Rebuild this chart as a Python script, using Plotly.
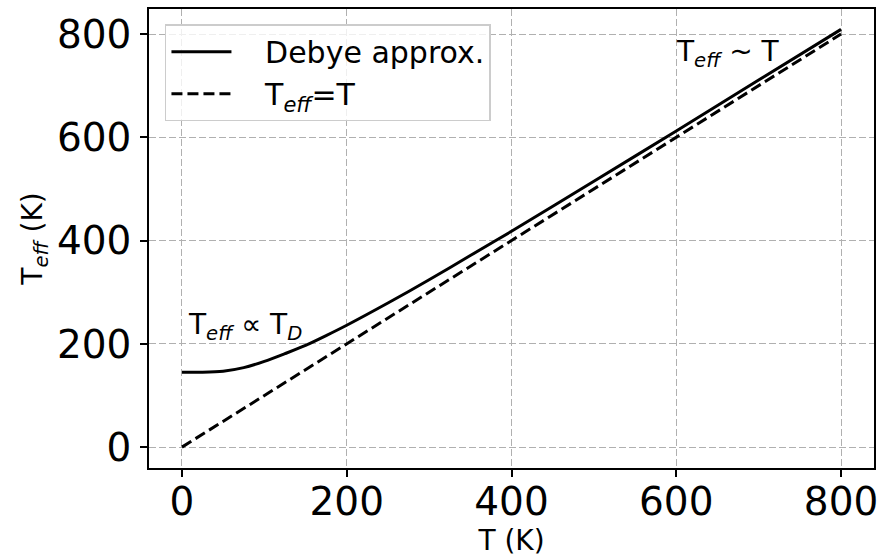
import plotly.graph_objects as go

# Data
T_debye = [0, 25, 50, 75, 100, 125, 150, 175, 200, 250, 300, 350, 400, 500, 600, 700, 800]
Teff_debye = [145, 145, 147, 154, 166, 181, 197, 216, 236, 279, 324, 371, 418, 515, 612, 711, 809]
T_line = [0, 800]
Teff_line = [0, 800]
tick_vals = [0, 200, 400, 600, 800]

FONT = "DejaVu Sans"
NB = "\u00a0"

fig = go.Figure()
fig.add_trace(go.Scatter(
    x=T_debye, y=Teff_debye, mode="lines", name=NB * 3 + "Debye approx.",
    line=dict(color="black", width=3, shape="spline", smoothing=0.8),
))
fig.add_trace(go.Scatter(
    x=T_line, y=Teff_line, mode="lines", name=NB * 3 + "T<sub><i>eff</i></sub>=T",
    line=dict(color="black", width=3, dash="11px,5px"),
))

axis_common = dict(
    showline=True, linecolor="black", linewidth=1.6, mirror=True,
    ticks="outside", ticklen=7, tickwidth=1.5, tickcolor="black",
    showgrid=True, gridcolor="#b0b0b0", gridwidth=1.3, griddash="7px,3px",
    zeroline=False, tickvals=tick_vals, automargin=False,
    tickfont=dict(family=FONT, size=39, color="black"),
)

fig.update_xaxes(range=[-40, 840], title=dict(text="T (K)", font=dict(family=FONT, size=28, color="black"), standoff=4),
                 ticklabelstandoff=-9, **axis_common)
fig.update_yaxes(range=[-40.4, 848.4], title=dict(text="T<sub><i>eff</i></sub> (K)", font=dict(family=FONT, size=28, color="black"), standoff=6),
                 ticklabelstandoff=1, **axis_common)

fig.add_annotation(x=5, y=193, text="T<sub><i>eff</i></sub> ∝ T<sub><i>D</i></sub>", showarrow=False,
                   xanchor="left", yanchor="bottom", font=dict(family=FONT, size=28, color="black"))
fig.add_annotation(x=597, y=723, text="T<sub><i>eff</i></sub> ~ T", showarrow=False,
                   xanchor="left", yanchor="bottom", font=dict(family=FONT, size=28, color="black"))

fig.update_layout(
    width=890, height=557,
    margin=dict(l=149, r=16, t=9, b=89, autoexpand=False),
    plot_bgcolor="white", paper_bgcolor="white",
    font=dict(family=FONT, color="black"),
    showlegend=True,
    legend=dict(x=0.022, y=0.967, xanchor="left", yanchor="top",
                bgcolor="rgba(255,255,255,0.8)", bordercolor="#cccccc", borderwidth=1.5,
                font=dict(family=FONT, size=30, color="black"), itemwidth=60,
                tracegroupgap=0),
)

fig.write_html("out.html")
